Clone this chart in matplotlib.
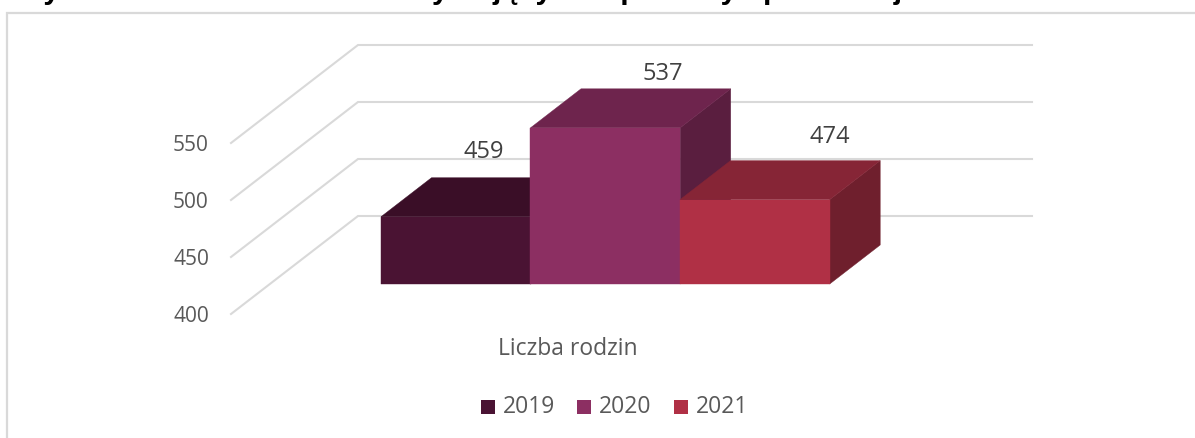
import matplotlib
matplotlib.use("Agg")
import matplotlib.pyplot as plt
from matplotlib.patches import Polygon, Rectangle

title = "Wykres 1. Liczba rodzin korzystających z pomocy społecznej"
years = ["2019", "2020", "2021"]
values = [459, 537, 474]
category = "Liczba rodzin"
axis_ticks = [400, 450, 500, 550]
front = ["#4A1333", "#8C2F62", "#B03045"]
top = ["#3A0E27", "#6E244D", "#862536"]
side = ["#3A0E27", "#5A1E3F", "#6F1F2D"]

W, H = 1195, 438
plt.rcParams["font.family"] = ["Open Sans", "DejaVu Sans"]
fig = plt.figure(figsize=(W / 100, H / 100), dpi=100)
ax = fig.add_axes([0, 0, 1, 1])
ax.set_xlim(0, W)
ax.set_ylim(H, 0)
ax.axis("off")

PX = 1.14
base = 400
grid_c = "#D9D9D9"
txt_c = "#595959"

# chart frame
ax.plot([7.5, 7.5, W], [H, 12.5, 12.5], color=grid_c, lw=1.6, solid_joinstyle="miter", zorder=1)

# clipped heading
ax.text(15, -2, title, fontsize=22, fontweight="bold", family="Liberation Sans",
        color="black", va="baseline", ha="left", zorder=1, clip_on=True)

# gridlines
for t in axis_ticks:
    y = 314 - (t - base) * PX
    ax.plot([231, 358, 1032], [y, y - 98, y - 98], color=grid_c, lw=1.5,
            solid_joinstyle="miter", zorder=2)
    ax.text(191, y + 2.5, str(t), fontsize=15, color=txt_c, ha="center", va="center", zorder=3)

# bars
x_left = [381, 530.5, 680]
bw = 149.7
dx, dy = 50.5, -39
y0 = 284
label_xy = [(484, 152), (663, 74), (830, 137)]
for i, v in enumerate(values):
    x0, x1 = x_left[i], x_left[i] + bw
    yt = y0 - (v - base) * PX
    ax.add_patch(Polygon([(x1, y0), (x1 + dx, y0 + dy), (x1 + dx, yt + dy), (x1, yt)],
                         fc=side[i], ec=side[i], lw=0.3, zorder=4 + i))
    ax.add_patch(Polygon([(x0, yt), (x0 + dx, yt + dy), (x1 + dx, yt + dy), (x1, yt)],
                         fc=top[i], ec=top[i], lw=0.3, zorder=4 + i))
    ax.add_patch(Rectangle((x0, yt), bw, y0 - yt, fc=front[i], ec=front[i], lw=0.3, zorder=4 + i))
    ax.text(label_xy[i][0], label_xy[i][1], str(v), fontsize=17, color="#404040",
            ha="center", va="center", zorder=10)

ax.text(567.5, 349, category, fontsize=16.5, color=txt_c, ha="center", va="center", zorder=10)

# legend
leg_x = [481, 577, 674]
for i, yr in enumerate(years):
    ax.add_patch(Rectangle((leg_x[i], 399.5), 14.5, 14.5, fc=front[i], ec="none", zorder=10))
    ax.text(leg_x[i] + 22, 407, yr, fontsize=16.5, color=txt_c, ha="left", va="center", zorder=10)

fig.savefig("out.png", dpi=100, facecolor="white")
